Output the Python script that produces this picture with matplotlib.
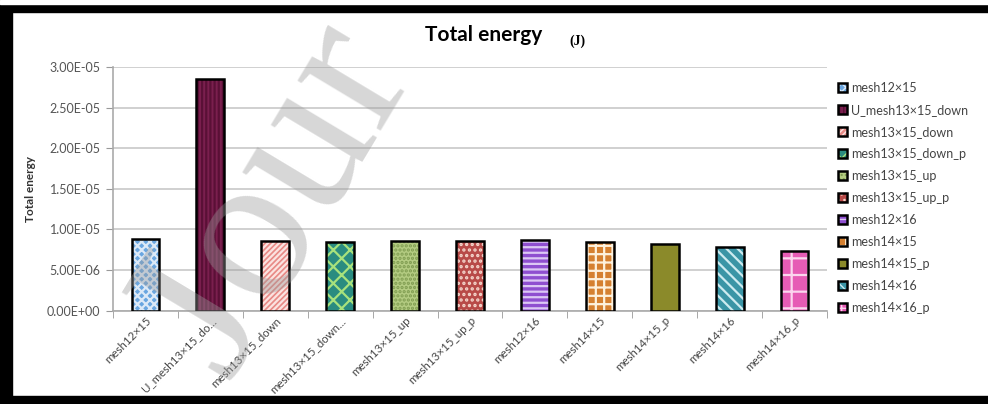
import matplotlib
matplotlib.use("Agg")
import matplotlib.pyplot as plt
from matplotlib.patches import Rectangle
import matplotlib.transforms as mtransforms
import numpy as np

plt.rcParams['font.family'] = ['Lato', 'DejaVu Sans']

# mesh cases and total energy (J)
tick_labels = ["mesh12×15", "U_mesh13×15_do...", "mesh13×15_down", "mesh13×15_down...",
               "mesh13×15_up", "mesh13×15_up_p", "mesh12×16", "mesh14×15",
               "mesh14×15_p", "mesh14×16", "mesh14×16_p"]
legend_labels = ["mesh12×15", "U_mesh13×15_down", "mesh13×15_down", "mesh13×15_down_p",
                 "mesh13×15_up", "mesh13×15_up_p", "mesh12×16", "mesh14×15",
                 "mesh14×15_p", "mesh14×16", "mesh14×16_p"]
energy = [8.8e-6, 2.85e-5, 8.5e-6, 8.45e-6, 8.5e-6, 8.5e-6, 8.7e-6, 8.4e-6,
          8.2e-6, 7.8e-6, 7.3e-6]
yticks = [0, 5e-6, 1e-5, 1.5e-5, 2e-5, 2.5e-5, 3e-5]

face = ['#6aa6e0', '#7a1f4e', '#e88a86', '#2a8c80', '#b4cc82', '#b84a48',
        '#8f4fd0', '#d58030', '#8b8a2a', '#3a95a6', '#e65cb5']
hatch_col = ['#dce9f7', '#5a1036', '#fbe3e0', '#a8e27c', '#7f9c50', '#f4d6cc',
             '#dcc8f4', '#fdf1dd', '#8b8a2a', '#cdebf0', '#fbd6ee']
hatches = ['xxxx', '||||', '//////', 'xx', '....', '...', '---', '++', None, '\\\\\\', '+']

fig = plt.figure(figsize=(9.88, 4.04), dpi=100)
ax = fig.add_axes([0.1144, 0.2314, 0.7226, 0.6030])

x = np.arange(len(energy))
w = 0.43
handles = []
for i in x:
    with plt.rc_context({'hatch.linewidth': 1.6}):
        b1 = ax.bar(x[i], energy[i], w, color=face[i], edgecolor=hatch_col[i],
                    hatch=hatches[i], linewidth=0, zorder=3)
    b2 = ax.bar(x[i], energy[i], w, fill=False, edgecolor='black', linewidth=1.8, zorder=4)
    handles.append((b1.patches[0], b2.patches[0]))

ax.set_xlim(-0.5, len(energy) - 0.5)
ax.set_ylim(0, 3e-5)
ax.set_yticks(yticks)
ax.set_yticklabels([f"{v:.2E}" for v in yticks], fontsize=9, color='#555555')
ax.yaxis.grid(True, color='#c8c8c8', linewidth=1.2)
ax.set_axisbelow(True)

ax.set_xticks(x)
ax.set_xticklabels(tick_labels, rotation=45, ha='right', rotation_mode='anchor',
                   fontsize=8.3, color='#444444')
shift = mtransforms.ScaledTranslation(8 / 72, 0, fig.dpi_scale_trans)
for lbl in ax.get_xticklabels():
    lbl.set_transform(lbl.get_transform() + shift)
ax.tick_params(axis='x', length=0, pad=3)
ax.set_xticks(np.arange(-0.5, len(energy)), minor=True)
ax.tick_params(axis='x', which='minor', length=5, color='#999999')
ax.tick_params(axis='y', length=5, color='#999999', pad=4)

for s in ['top', 'right']:
    ax.spines[s].set_visible(False)
for s in ['left', 'bottom']:
    ax.spines[s].set_color('#aaaaaa')
    ax.spines[s].set_linewidth(1.2)

ax.set_ylabel("Total energy", fontsize=8.5, fontweight='bold', color='#333333', labelpad=8)

fig.text(0.489, 0.913, "Total energy", fontsize=15, fontweight='bold', ha='center', va='center')
fig.text(0.584, 0.897, "(J)", fontsize=10, fontweight='bold', family='Liberation Serif',
         ha='center', va='center')

leg = fig.legend(handles, legend_labels, loc='upper left', bbox_to_anchor=(0.848, 0.798),
                 frameon=False, fontsize=9, handlelength=0.75, handleheight=0.75,
                 handletextpad=0.3, labelspacing=0.8, borderaxespad=0, borderpad=0)
for t in leg.get_texts():
    t.set_color('#444444')

# watermark
fig.text(0.230, 0.057, "Jour", fontsize=152, family='Liberation Serif',
         color='#9a9a9a', alpha=0.4, rotation=59, rotation_mode='anchor',
         ha='left', va='baseline', zorder=20)

# black frame around the figure
fig.add_artist(Rectangle((0, 0.970), 1, 0.030, transform=fig.transFigure,
                         color='black', zorder=30))
fig.add_artist(Rectangle((0, 0.990), 1, 0.010, transform=fig.transFigure,
                         color='white', zorder=31))
fig.add_artist(Rectangle((0, 0), 0.012, 0.990, transform=fig.transFigure,
                         color='black', zorder=30))
fig.add_artist(Rectangle((0, 0), 1, 0.020, transform=fig.transFigure,
                         color='black', zorder=30))

fig.savefig("out.png", dpi=100)
